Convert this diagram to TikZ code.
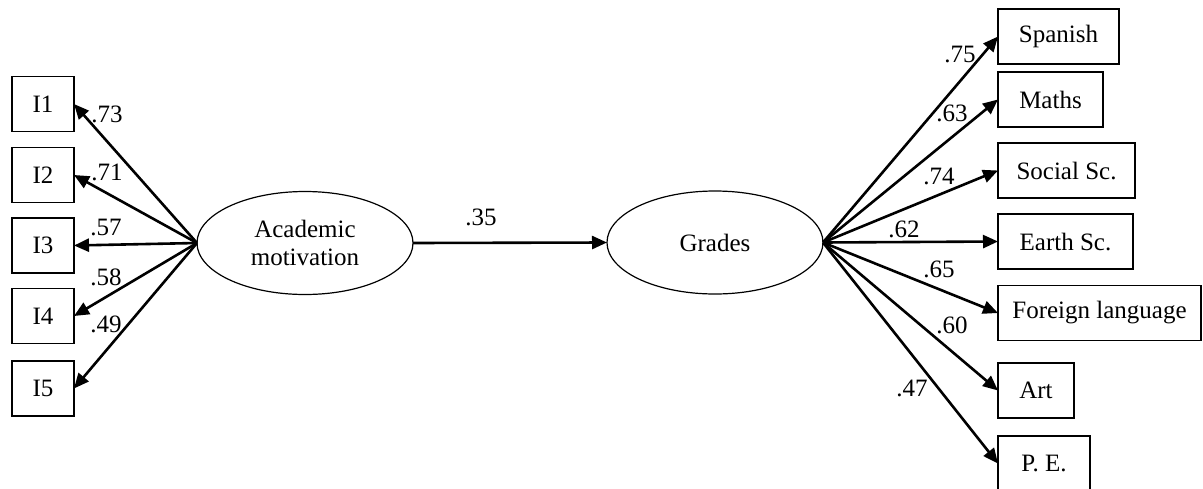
\documentclass[tikz,border=0pt]{standalone}
\usepackage{fontspec}
\setmainfont{Liberation Serif}
\usetikzlibrary{arrows.meta,shapes.geometric}
\begin{document}
\begin{tikzpicture}[x=1pt,y=-1pt,
  every node/.style={font=\fontsize{25}{28}\selectfont, inner sep=0pt, outer sep=0pt},
  obs/.style={draw, line width=1.3pt, minimum height=55pt},
  lat/.style={draw, ellipse, line width=1.2pt, minimum width=216pt, minimum height=103pt, align=center},
  pathto/.style={line width=2.6pt, -{Triangle[length=15pt,width=13pt]}},
  coef/.style={anchor=base}]
\clip (0,0) rectangle (1203,488);
% latent variables
\node[lat] (am) at (305,243) {Academic\\motivation};
\node[lat] (gr) at (715,242.5) {Grades};
% indicators of motivation
\node[obs, minimum width=62pt] (i1) at (43,104) {I1};
\node[obs, minimum width=62pt] (i2) at (43,175) {I2};
\node[obs, minimum width=62pt] (i3) at (43,245.5) {I3};
\node[obs, minimum width=62pt] (i4) at (43,316) {I4};
\node[obs, minimum width=62pt] (i5) at (43,388.5) {I5};
% grade indicators
\node[obs, minimum width=121pt] (sp) at (1058.5,36.5) {Spanish};
\node[obs, minimum width=105pt] (ma) at (1050.5,99.5) {Maths};
\node[obs, minimum width=137pt] (so) at (1066.5,170.5) {Social Sc.};
\node[obs, minimum width=135pt] (ea) at (1065.5,241.5) {Earth Sc.};
\node[obs, minimum width=203pt] (fl) at (1099.5,313) {Foreign language};
\node[obs, minimum width=76pt] (ar) at (1036,390.5) {Art};
\node[obs, minimum width=92pt] (pe) at (1044,463.5) {P. E.};
% paths
\draw[pathto] (am.west) -- (i1.east);
\draw[pathto] (am.west) -- (i2.east);
\draw[pathto] (am.west) -- (i3.east);
\draw[pathto] (am.west) -- (i4.east);
\draw[pathto] (am.west) -- (i5.east);
\draw[pathto] (am.east) -- (gr.west);
\draw[pathto] (gr.east) -- (sp.west);
\draw[pathto] (gr.east) -- (ma.west);
\draw[pathto] (gr.east) -- (so.west);
\draw[pathto] (gr.east) -- (ea.west);
\draw[pathto] (gr.east) -- (fl.west);
\draw[pathto] (gr.east) -- (ar.west);
\draw[pathto] (gr.east) -- (pe.west);
% coefficients
\node[coef] (c1) at (107,122) {.73};
\node[coef] (c2) at (107,180) {.71};
\node[coef] (c3) at (106,235) {.57};
\node[coef] (c4) at (106,285) {.58};
\node[coef] (c5) at (106,332) {.49};
\node[coef] (c6) at (481,225) {.35};
\node[coef] (c7) at (960,62) {.75};
\node[coef] (c8) at (952,121) {.63};
\node[coef] (c9) at (939,184) {.74};
\node[coef] (c10) at (904,237) {.62};
\node[coef] (c11) at (939,277) {.65};
\node[coef] (c12) at (952,333) {.60};
\node[coef] (c13) at (912,396) {.47};
\end{tikzpicture}
\end{document}
